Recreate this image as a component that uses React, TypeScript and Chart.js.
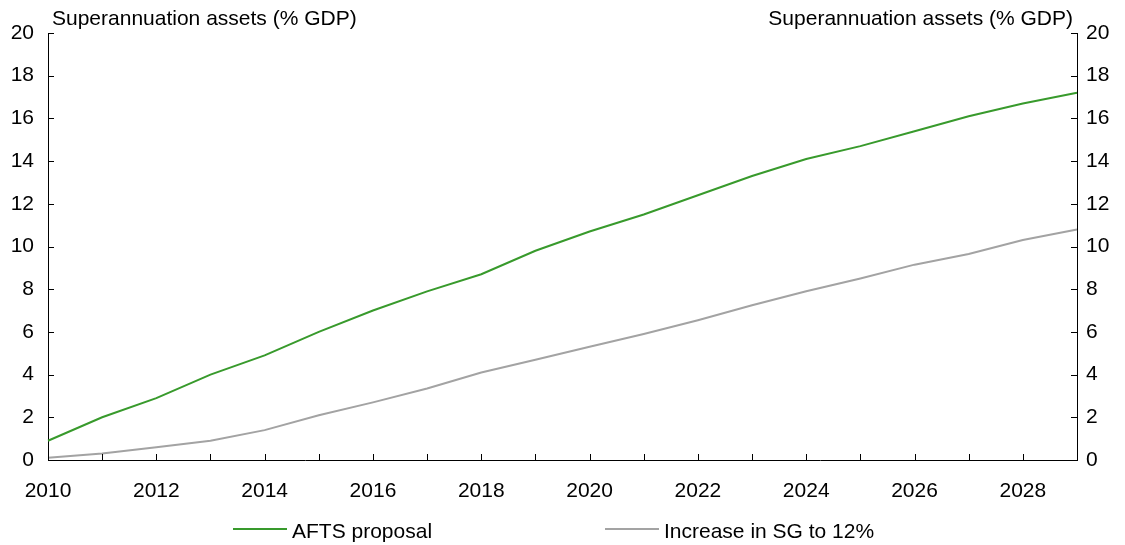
import { useEffect, useRef } from 'react';
import { Chart, registerables } from 'chart.js';

Chart.register(...registerables);

const years = [
  '2010', '2011', '2012', '2013', '2014', '2015', '2016', '2017', '2018', '2019',
  '2020', '2021', '2022', '2023', '2024', '2025', '2026', '2027', '2028', '2029',
];
const aftsProposal = [
  0.9, 2.0, 2.9, 4.0, 4.9, 6.0, 7.0, 7.9, 8.7, 9.8,
  10.7, 11.5, 12.4, 13.3, 14.1, 14.7, 15.4, 16.1, 16.7, 17.2,
];
const sgIncrease = [
  0.1, 0.3, 0.6, 0.9, 1.4, 2.1, 2.7, 3.35, 4.1, 4.7,
  5.3, 5.9, 6.55, 7.25, 7.9, 8.5, 9.15, 9.65, 10.3, 10.8,
];
const seriesNames = ['AFTS proposal', 'Increase in SG to 12%'];
const axisTitle = 'Superannuation assets (% GDP)';
const yMin = 0;
const yMax = 20;
const yStep = 2;

const FONT = '"Liberation Sans", Arial, sans-serif';
const FONT_SIZE = 21;
const GREEN = '#389A2C';
const GREY = '#A3A3A3';

const decorPlugin = {
  id: 'decor',
  afterDraw(chart: any) {
    const ctx = chart.ctx;
    const area = chart.chartArea;
    const x = chart.scales.x;
    const yl = chart.scales.y;
    const yr = chart.scales.y2;
    ctx.save();
    ctx.strokeStyle = '#000';
    ctx.lineWidth = 1;
    const tl = 6;
    // inward tick marks
    x.ticks.forEach((_t: any, i: number) => {
      const px = Math.round(x.getPixelForTick(i)) + 0.5;
      ctx.beginPath();
      ctx.moveTo(px, area.bottom);
      ctx.lineTo(px, area.bottom - tl);
      ctx.stroke();
    });
    yl.ticks.forEach((t: any) => {
      const py = Math.round(yl.getPixelForValue(t.value)) + 0.5;
      ctx.beginPath();
      ctx.moveTo(area.left, py);
      ctx.lineTo(area.left + tl, py);
      ctx.stroke();
    });
    yr.ticks.forEach((t: any) => {
      const py = Math.round(yr.getPixelForValue(t.value)) + 0.5;
      ctx.beginPath();
      ctx.moveTo(area.right, py);
      ctx.lineTo(area.right - tl, py);
      ctx.stroke();
    });
    // axis titles
    ctx.fillStyle = '#000';
    ctx.font = `${FONT_SIZE}px ${FONT}`;
    ctx.textBaseline = 'alphabetic';
    ctx.textAlign = 'left';
    ctx.fillText(axisTitle, area.left + 4, 25);
    ctx.textAlign = 'right';
    ctx.fillText(axisTitle, area.right - 4, 25);
    // legend
    const legendY = 529;
    const items = [
      { x0: 233, color: chart.data.datasets[0].borderColor, label: chart.data.datasets[0].label },
      { x0: 605, color: chart.data.datasets[1].borderColor, label: chart.data.datasets[1].label },
    ];
    items.forEach((it) => {
      ctx.strokeStyle = it.color;
      ctx.lineWidth = 2;
      ctx.beginPath();
      ctx.moveTo(it.x0, legendY);
      ctx.lineTo(it.x0 + 54, legendY);
      ctx.stroke();
      ctx.fillStyle = '#000';
      ctx.textAlign = 'left';
      ctx.textBaseline = 'alphabetic';
      ctx.fillText(it.label, it.x0 + 59, legendY + 9);
    });
    ctx.restore();
  },
};

export default function App() {
  const ref = useRef<HTMLCanvasElement>(null);
  useEffect(() => {
    document.body.style.margin = '0';
    const chart = new Chart(ref.current as HTMLCanvasElement, {
      type: 'line',
      data: {
        labels: years,
        datasets: [
          {
            label: seriesNames[0],
            data: aftsProposal,
            borderColor: GREEN,
            backgroundColor: GREEN,
            borderWidth: 2,
            pointRadius: 0,
            tension: 0,
            yAxisID: 'y',
          },
          {
            label: seriesNames[1],
            data: sgIncrease,
            borderColor: GREY,
            backgroundColor: GREY,
            borderWidth: 2,
            pointRadius: 0,
            tension: 0,
            yAxisID: 'y',
          },
        ],
      },
      options: {
        animation: false,
        responsive: true,
        maintainAspectRatio: false,
        layout: { padding: { left: 0, right: 0, top: 33, bottom: 0 } },
        plugins: {
          legend: { display: false },
          tooltip: { enabled: false },
          title: { display: false },
        },
        scales: {
          x: {
            type: 'category',
            offset: false,
            grid: { display: true, drawOnChartArea: false, drawTicks: false },
            border: { display: true, color: '#000', width: 1 },
            ticks: {
              autoSkip: false,
              maxRotation: 0,
              minRotation: 0,
              padding: 19,
              color: '#000',
              font: { family: FONT, size: FONT_SIZE },
              callback: (_v: any, i: number) => (i % 2 === 0 ? years[i] : ''),
            },
            afterFit: (s: any) => {
              s.height = 85;
            },
          },
          y: {
            position: 'left',
            min: yMin,
            max: yMax,
            grid: { display: true, drawOnChartArea: false, drawTicks: false },
            border: { display: true, color: '#000', width: 1 },
            ticks: {
              stepSize: yStep,
              padding: 14,
              color: '#000',
              font: { family: FONT, size: FONT_SIZE },
            },
            afterFit: (s: any) => {
              s.width = 48;
            },
          },
          y2: {
            position: 'right',
            min: yMin,
            max: yMax,
            grid: { display: true, drawOnChartArea: false, drawTicks: false },
            border: { display: true, color: '#000', width: 1 },
            ticks: {
              stepSize: yStep,
              padding: 9,
              color: '#000',
              font: { family: FONT, size: FONT_SIZE },
            },
            afterFit: (s: any) => {
              s.width = 48;
            },
          },
        },
      },
      plugins: [decorPlugin],
    });
    return () => chart.destroy();
  }, []);
  return (
    <div style={{ position: 'relative', width: 1125, height: 545 }}>
      <canvas ref={ref} />
    </div>
  );
}
